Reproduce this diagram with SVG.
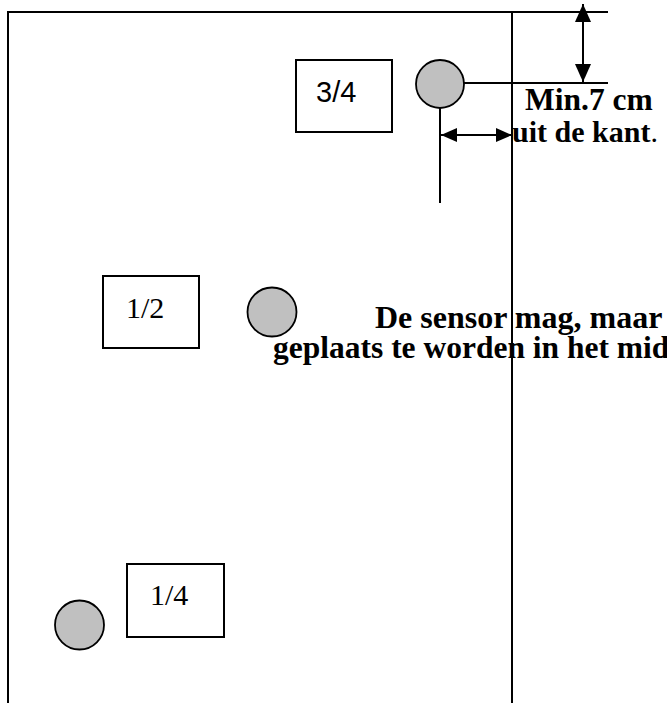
<svg xmlns="http://www.w3.org/2000/svg" width="667" height="703" viewBox="0 0 667 703">
<style>
.ln{stroke:#000;stroke-width:2;fill:none}
.box{fill:#fff;stroke:#000;stroke-width:2}
.sensor{fill:#c0c0c0;stroke:#000;stroke-width:1.8}
.lbl{font-family:"Liberation Serif",serif;font-size:30px;fill:#000}
.lbls{font-family:"Liberation Sans",sans-serif;font-size:29px;fill:#000}
.note{font-family:"Liberation Serif",serif;font-size:32px;font-weight:bold;fill:#000}
</style>
<defs>
<marker id="ah" viewBox="0 0 16 14" refX="16" refY="7" markerWidth="16" markerHeight="14" markerUnits="userSpaceOnUse" orient="auto-start-reverse">
<path d="M0,0 L16,7 L0,14 Z" fill="#000"/>
</marker>
<marker id="av" viewBox="0 0 18 16" refX="18" refY="8" markerWidth="18" markerHeight="16" markerUnits="userSpaceOnUse" orient="auto-start-reverse">
<path d="M0,0 L18,8 L0,16 Z" fill="#000"/>
</marker>
</defs>
<g id="connectors">
<line class="ln" x1="8" y1="12" x2="8" y2="703"/>
<line class="ln" x1="7" y1="12" x2="608" y2="12"/>
<line class="ln" x1="512" y1="12" x2="512" y2="703"/>
<line class="ln" x1="440" y1="83" x2="608" y2="83"/>
<line class="ln" x1="440" y1="83" x2="440" y2="203"/>
<line class="ln" x1="583" y1="4" x2="583" y2="82" marker-start="url(#av)" marker-end="url(#av)"/>
<line class="ln" x1="441" y1="135" x2="512" y2="135" marker-start="url(#ah)" marker-end="url(#ah)"/>
</g>
<g id="box-34"><rect class="box" x="296" y="60" width="96" height="72"/><text class="lbls" x="316" y="102">3/4</text></g>
<g id="sensor-top"><circle class="sensor" cx="440" cy="84" r="24"/></g>
<g id="box-12"><rect class="box" x="103" y="276" width="96" height="72"/><text class="lbl" x="126" y="318">1/2</text></g>
<g id="sensor-mid"><circle class="sensor" cx="272" cy="312" r="24.5"/></g>
<g id="box-14"><rect class="box" x="127" y="564" width="97" height="73"/><text class="lbl" x="150" y="605">1/4</text></g>
<g id="sensor-bottom"><circle class="sensor" cx="79.5" cy="625" r="24.5"/></g>
<g id="labels">
<text class="note" x="525" y="110" style="font-size:31.5px">Min.7 cm</text>
<text class="note" x="512" y="142" style="font-size:30px">uit de kant<tspan font-weight="normal">.</tspan></text>
<text class="note" x="375" y="328">De sensor mag, maar</text>
<text class="note" x="273" y="358" style="font-size:31.5px">geplaats te worden in het mid</text>
</g>
<line class="ln" x1="512" y1="12" x2="512" y2="703"/>
</svg>
